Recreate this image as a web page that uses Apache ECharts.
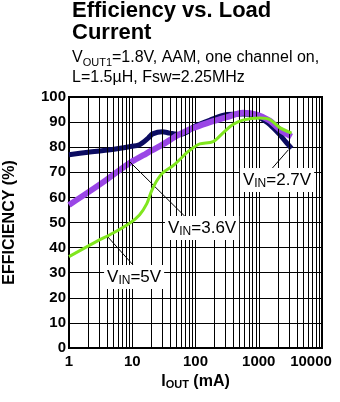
<!DOCTYPE html>
<html>
<head>
<meta charset="utf-8">
<script src="https://cdn.jsdelivr.net/npm/echarts@6/dist/echarts.min.js"></script>
<style>
  html, body { margin: 0; padding: 0; background: #fff; }
  #chart { width: 340px; height: 402px; }
</style>
</head>
<body>
<div id="chart"></div>
<script>
// Load current (mA) and efficiency (%) for each input voltage
const current27 = [1, 2, 4.5, 9, 13, 18, 21, 30, 39, 57, 73, 91, 170, 315, 560, 930, 1170, 1500, 2150, 2700, 3300];
const eff27     = [77, 78, 79, 80.2, 81, 83.7, 85.3, 86.2, 85.6, 85, 86, 88, 90.8, 93, 93.2, 92.6, 91, 89, 85, 82, 79.5];

const current36 = [1, 2, 4, 9.2, 15, 20, 30, 51, 73, 91, 170, 315, 560, 930, 1500, 2150, 2900, 3300];
const eff36     = [57, 62, 67.2, 73.8, 76.8, 78.6, 81, 84.6, 86.6, 87.6, 90, 92, 93.7, 93, 90.5, 87, 85, 84.2];

const current5  = [1, 2.7, 5, 9.2, 13, 17, 20, 24, 30, 44, 57, 72, 91, 117, 190, 270, 390, 560, 1040, 1500, 2150, 3300];
const eff5      = [36.4, 42.4, 45.8, 49.8, 53, 57.5, 62.3, 66.3, 69.7, 72.6, 75.2, 77.7, 79.7, 81.3, 82.2, 85.6, 89, 90.8, 91.6, 91, 87.8, 85.6];

// Axis tick labels
const xTickLabels = ['1', '10', '100', '1000', '10000'];
const yTickLabels = ['0', '10', '20', '30', '40', '50', '60', '70', '80', '90', '100'];

// Callout labels: text, label anchor, and leader line ends (mA, %)
const calloutNames  = ['2.7V', '3.6V', '5V'];
const calloutAnchor = [[1945, 66.9], [127, 47.8], [10.7, 28.3]];
const leaderFrom    = [[2950, 79], [9.2, 74.1], [4.0, 44.6]];
const leaderTo      = [[1506, 70.6], [73.4, 51.6], [10.7, 32.6]];

const FONT = '"Liberation Sans", Arial, Helvetica, sans-serif';

// Minor log grid lines (2..9 within each decade)
const minorGrid = [];
for (let d = 1; d <= 1000; d *= 10) {
  for (let k = 2; k <= 9; k++) minorGrid.push({ xAxis: k * d });
}

const zip = (xs, ys) => xs.map((x, i) => [x, ys[i]]);

const chart = echarts.init(document.getElementById('chart'), null, { renderer: 'canvas' });

chart.setOption({
  animation: false,
  backgroundColor: '#fff',
  title: [
    {
      text: 'Efficiency vs. Load\nCurrent',
      left: 72, top: 0, padding: 0,
      textStyle: { fontFamily: FONT, fontSize: 22, fontWeight: 'bold', lineHeight: 22, color: '#000' }
    },
    {
      text: '{a|V}{s|OUT1}{a|=1.8V, AAM, one channel on,}\n{a|L=1.5µH, Fsw=2.25MHz}',
      left: 72, top: 48, padding: 0,
      textStyle: {
        fontWeight: 'normal',
        rich: {
          a: { fontFamily: FONT, fontSize: 16, fontWeight: 'normal', lineHeight: 20, color: '#000' },
          s: { fontFamily: FONT, fontSize: 11, fontWeight: 'normal', lineHeight: 11, verticalAlign: 'bottom', color: '#000' }
        }
      }
    }
  ],
  grid: {
    left: 69, right: 18, top: 97, bottom: 54,
    outerBoundsMode: 'none',
    containLabel: false,
    show: true, borderColor: '#000', borderWidth: 2, backgroundColor: '#fff'
  },
  xAxis: {
    type: 'log', logBase: 10, min: 1, max: 10000,
    name: '{i|I}{s|OUT}{i| (mA)}',
    nameLocation: 'middle', nameGap: 23,
    nameTextStyle: {
      rich: {
        i: { fontFamily: FONT, fontSize: 16, fontWeight: 'bold', lineHeight: 18, color: '#000' },
        s: { fontFamily: FONT, fontSize: 11, fontWeight: 'bold', lineHeight: 11, verticalAlign: 'bottom', color: '#000' }
      }
    },
    axisLine: { show: true, lineStyle: { color: '#000', width: 2 } },
    axisTick: { show: false },
    splitLine: { show: true, lineStyle: { color: '#000', width: 1 } },
    axisLabel: {
      margin: 6, color: '#000',
      fontFamily: FONT, fontSize: 15, fontWeight: 'bold',
      formatter: v => {
        const i = Math.round(Math.log10(v));
        const t = xTickLabels[i];
        return i === xTickLabels.length - 1 ? '{last|' + t + '}' : t;
      },
      rich: {
        last: { fontFamily: FONT, fontSize: 15, fontWeight: 'bold', color: '#000', padding: [0, 22, 0, 0] }
      }
    }
  },
  yAxis: {
    type: 'value', min: 0, max: 100, interval: 10,
    name: 'EFFICIENCY (%)',
    nameLocation: 'middle', nameGap: 51, nameRotate: 90,
    nameTextStyle: { fontFamily: FONT, fontSize: 16, fontWeight: 'bold', color: '#000' },
    axisLine: { show: true, lineStyle: { color: '#000', width: 2 } },
    axisTick: { show: false },
    splitLine: { show: true, lineStyle: { color: '#000', width: 1 } },
    axisLabel: {
      margin: 3, color: '#000',
      fontFamily: FONT, fontSize: 15, fontWeight: 'bold',
      formatter: v => yTickLabels[Math.round(v / 10)]
    }
  },
  series: [
    {
      // minor decade subdivisions
      type: 'line', data: [], z: 1, silent: true,
      markLine: {
        silent: true, symbol: ['none', 'none'], label: { show: false },
        lineStyle: { color: '#000', width: 1, type: 'solid' },
        animation: false,
        data: minorGrid
      }
    },
    {
      name: 'VIN=2.7V', type: 'line', z: 3, showSymbol: false, smooth: 0.3,
      data: zip(current27, eff27),
      lineStyle: { color: '#0c0c62', width: 5 }
    },
    {
      name: 'VIN=3.6V', type: 'line', z: 4, showSymbol: false, smooth: 0.3,
      data: zip(current36, eff36),
      lineStyle: { color: '#9a46e6', width: 6 }
    },
    {
      name: 'VIN=5V', type: 'line', z: 5, showSymbol: false, smooth: 0.3,
      data: zip(current5, eff5),
      lineStyle: { color: '#80e61e', width: 3 }
    },
    {
      // callouts naming each curve
      type: 'scatter', z: 6, silent: true,
      symbolSize: 1, itemStyle: { color: '#fff', opacity: 1 },
      data: calloutNames.map((n, i) => ({ name: n, value: calloutAnchor[i] })),
      label: {
        show: true, position: 'inside', color: '#000', opacity: 1,
        textBorderWidth: 0, textShadowBlur: 0,
        backgroundColor: '#fff', padding: [2, 3, 2, 3],
        formatter: p => '{v|V}{s|IN}{v|=' + p.name + '}',
        rich: {
          v: { fontFamily: FONT, fontSize: 17, lineHeight: 20, color: '#000', textBorderWidth: 0 },
          s: { fontFamily: FONT, fontSize: 12, lineHeight: 12, verticalAlign: 'bottom', color: '#000', textBorderWidth: 0 }
        }
      },
      emphasis: { disabled: true },
      markLine: {
        silent: true, symbol: ['none', 'none'], label: { show: false },
        lineStyle: { color: '#000', width: 1, type: 'solid' },
        data: calloutNames.map((n, i) => [{ coord: leaderFrom[i] }, { coord: leaderTo[i] }])
      }
    }
  ]
});
</script>
</body>
</html>
